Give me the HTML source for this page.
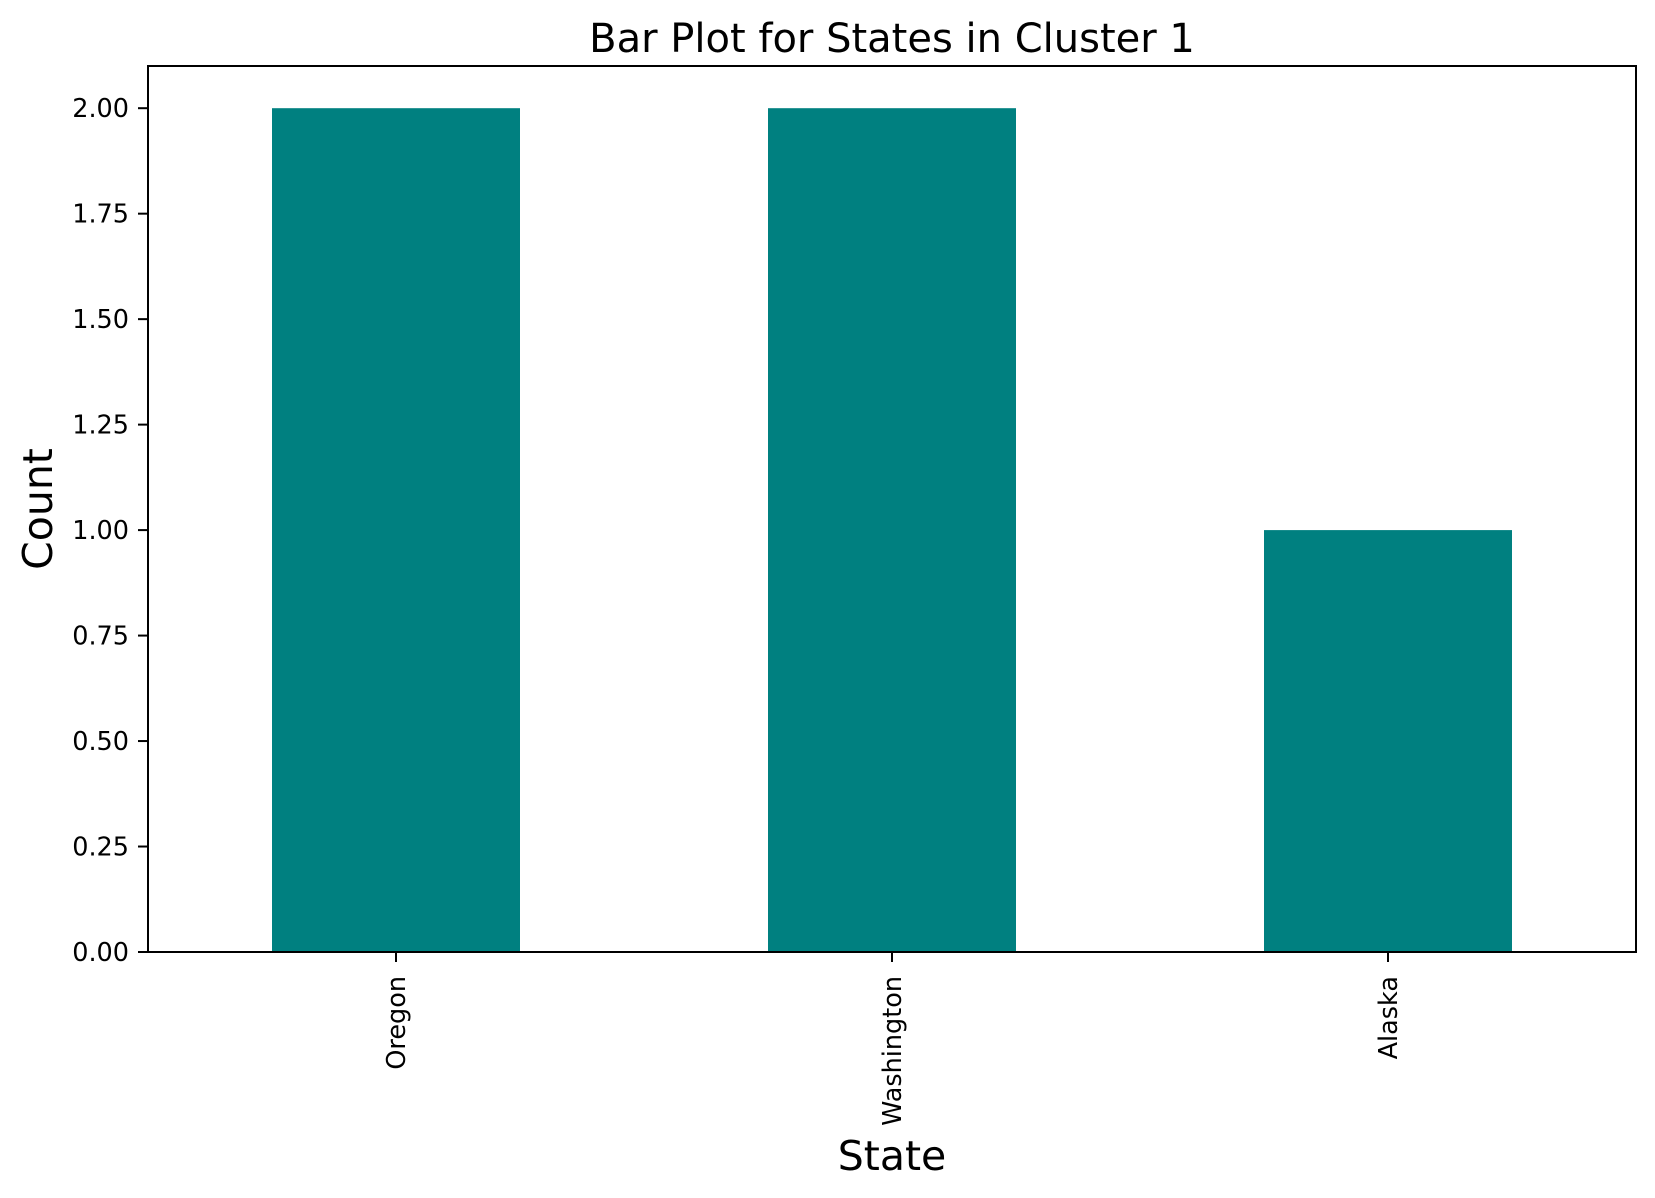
<!DOCTYPE html>
<html><head><meta charset="utf-8"><style>
html,body{margin:0;padding:0;background:#fff;}
svg{display:block;font-family:"DejaVu Sans","Liberation Sans",sans-serif;}
</style></head><body>
<svg id="chart" width="1655" height="1198" viewBox="0 0 1655 1198" xmlns="http://www.w3.org/2000/svg">
<rect width="1655" height="1198" fill="#fff"/>
<text x="892" y="52" font-size="40" text-anchor="middle">Bar Plot for States in Cluster 1</text>
<text x="892" y="1170" font-size="41" text-anchor="middle">State</text>
<text transform="translate(52,509) rotate(-90)" font-size="41" text-anchor="middle">Count</text>
<g id="bars"></g>
<g id="yticks"></g>
<g id="xticks"></g>
<rect x="148" y="66" width="1488" height="886" fill="none" stroke="#000" stroke-width="2"/>
</svg>
<script>
const categories = ["Oregon", "Washington", "Alaska"];
const counts = [2, 2, 1];
const yTickValues = [0, 0.25, 0.5, 0.75, 1.0, 1.25, 1.5, 1.75, 2.0];
const yTickLabels = ["0.00","0.25","0.50","0.75","1.00","1.25","1.50","1.75","2.00"];

const L=148,R=1636,T=66,B=952,yMax=2.1;
const NS="http://www.w3.org/2000/svg";
const band=(R-L)/categories.length;
function xc(i){return L+band*(i+0.5);}
function y(v){return B-(B-T)*v/yMax;}
const bars=document.getElementById('bars'),yt=document.getElementById('yticks'),xt=document.getElementById('xticks');
categories.forEach((c,i)=>{
  const r=document.createElementNS(NS,'rect');
  const w=band*0.5;
  r.setAttribute('x',xc(i)-w/2);r.setAttribute('width',w);
  r.setAttribute('y',y(counts[i]));r.setAttribute('height',y(0)-y(counts[i]));
  r.setAttribute('fill','#008080');
  
  
  bars.appendChild(r);
  const t=document.createElementNS(NS,'line');
  t.setAttribute('x1',xc(i));t.setAttribute('x2',xc(i));t.setAttribute('y1',B);t.setAttribute('y2',B+10);
  t.setAttribute('stroke','#000');t.setAttribute('stroke-width','2');
  
  
  xt.appendChild(t);
  const tx=document.createElementNS(NS,'text');
  tx.setAttribute('transform','translate('+(xc(i)+9)+','+(B+24)+') rotate(-90)');
  tx.setAttribute('text-anchor','end');tx.setAttribute('font-size','25.5');
  tx.textContent=c;
  
  
  xt.appendChild(tx);
});
yTickValues.forEach((v,i)=>{
  const t=document.createElementNS(NS,'line');
  t.setAttribute('x1',L-10);t.setAttribute('x2',L);t.setAttribute('y1',y(v));t.setAttribute('y2',y(v));
  t.setAttribute('stroke','#000');t.setAttribute('stroke-width','2');
  
  
  yt.appendChild(t);
  const tx=document.createElementNS(NS,'text');
  tx.setAttribute('x',L-19);tx.setAttribute('y',y(v)+9);
  tx.setAttribute('text-anchor','end');tx.setAttribute('font-size','25.5');
  tx.textContent=yTickLabels[i];
  
  
  yt.appendChild(tx);
});
</script>
</body></html>
